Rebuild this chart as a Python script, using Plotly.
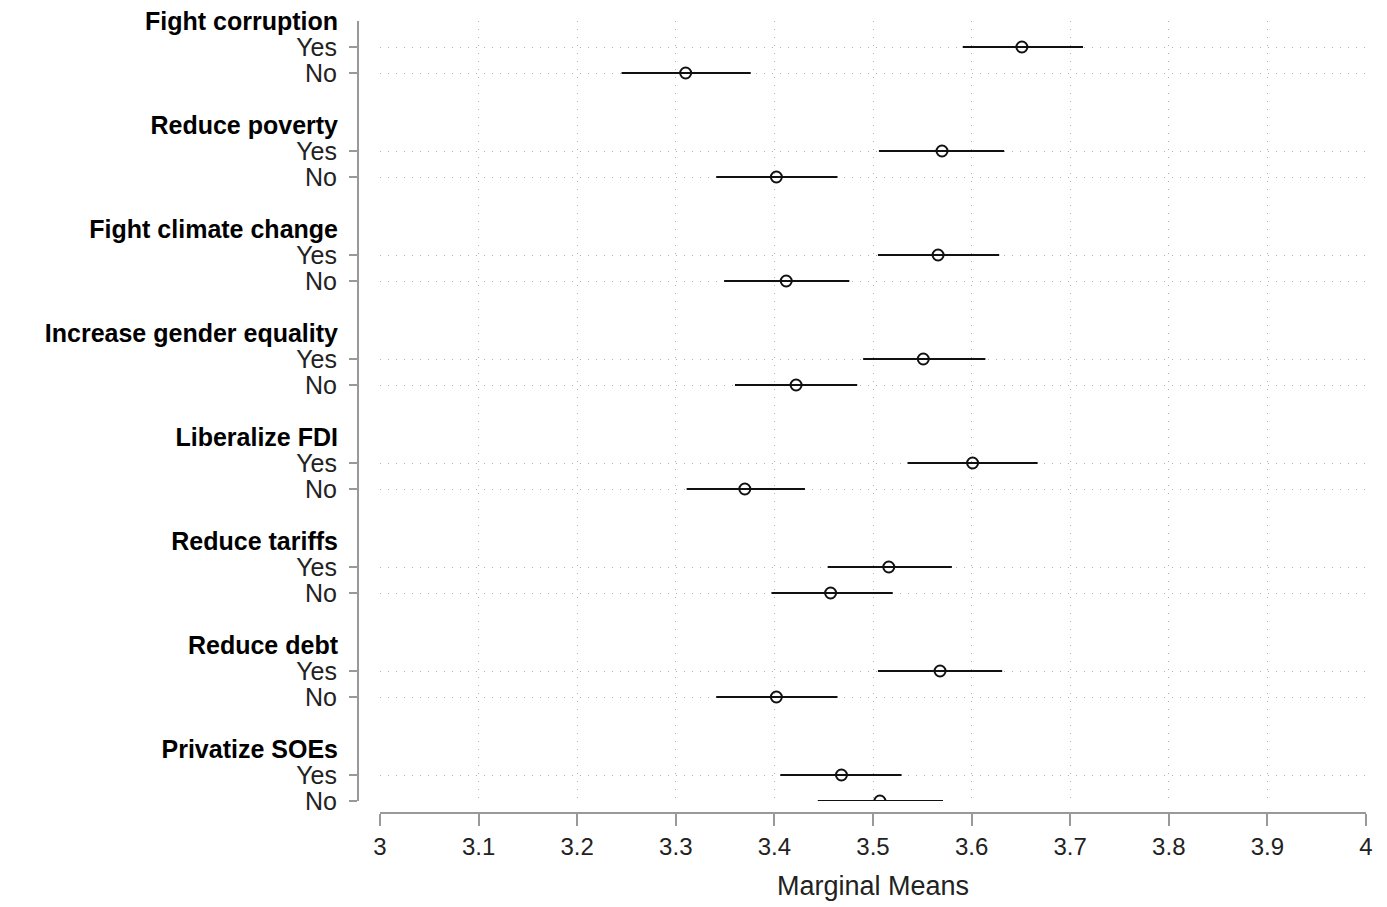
import plotly.graph_objects as go

groups = ["Fight corruption", "Reduce poverty", "Fight climate change",
          "Increase gender equality", "Liberalize FDI", "Reduce tariffs",
          "Reduce debt", "Privatize SOEs"]
levels = ["Yes", "No"]

yes_mean = [3.651, 3.570, 3.566, 3.551, 3.601, 3.516, 3.568, 3.468]
yes_lo   = [3.591, 3.506, 3.505, 3.490, 3.535, 3.454, 3.505, 3.406]
yes_hi   = [3.713, 3.633, 3.628, 3.614, 3.667, 3.580, 3.631, 3.529]
no_mean  = [3.310, 3.402, 3.412, 3.422, 3.370, 3.457, 3.402, 3.507]
no_lo    = [3.245, 3.341, 3.349, 3.360, 3.311, 3.397, 3.341, 3.444]
no_hi    = [3.376, 3.464, 3.476, 3.484, 3.431, 3.520, 3.464, 3.571]

x_ticks = [3, 3.1, 3.2, 3.3, 3.4, 3.5, 3.6, 3.7, 3.8, 3.9, 4]
x_tick_text = ["3", "3.1", "3.2", "3.3", "3.4", "3.5", "3.6", "3.7", "3.8", "3.9", "4"]

# row positions: header, Yes, No, blank per group
header_pos = [4 * i for i in range(len(groups))]
yes_pos = [4 * i + 1 for i in range(len(groups))]
no_pos = [4 * i + 2 for i in range(len(groups))]

means = yes_mean + no_mean
los = yes_lo + no_lo
his = yes_hi + no_hi
ys = yes_pos + no_pos

W, H = 1387, 907
FONT = "Liberation Sans, Arial, Helvetica, sans-serif"
FS_Y = 25
FS_T = 27
FS_X = 24
AX = "#999999"
GRID = "#b0b0b0"

fig = go.Figure()
fig.add_trace(go.Scatter(
    x=means, y=ys, mode="markers",
    marker=dict(symbol="circle-open", size=11, color="#111111", line=dict(width=2, color="#111111")),
    error_x=dict(type="data", symmetric=False,
                 array=[h - m for h, m in zip(his, means)],
                 arrayminus=[m - l for m, l in zip(means, los)],
                 color="#111111", thickness=2.2, width=0),
    showlegend=False, hoverinfo="x+y",
))
# invisible trace to carry secondary axes (header labels + vertical grid)
fig.add_trace(go.Scatter(x=[None] * len(header_pos), y=header_pos, xaxis="x2", yaxis="y2",
                         mode="markers", showlegend=False, hoverinfo="skip"))

y_pos_rows = sorted(yes_pos + no_pos)
y_text_rows = [levels[(p % 4) - 1] for p in y_pos_rows]

xdom = [380 / W, 1366 / W]
ydom = [1 - 801 / H, 1 - 21 / H]
yrange = [max(no_pos), 0]

fig.update_layout(
    width=W, height=H,
    margin=dict(l=0, r=0, t=0, b=0),
    paper_bgcolor="white", plot_bgcolor="white",
    font=dict(family=FONT, size=FS_Y, color="#222222"),
    xaxis=dict(domain=xdom, range=[3, 4], anchor="free", position=1 - 813 / H,
               tickvals=x_ticks, ticktext=x_tick_text, ticks="outside", ticklen=12,
               tickwidth=2, tickcolor=AX, showline=True, linecolor=AX, linewidth=2,
               showgrid=False, zeroline=False, automargin=False,
               title=dict(text="Marginal Means", standoff=16, font=dict(size=FS_T)),
               tickfont=dict(size=FS_X, color="#222222")),
    xaxis2=dict(domain=xdom, range=[3, 4], overlaying="x", anchor="y",
                tickvals=x_ticks[1:-1], showticklabels=False, ticks="",
                showline=False, showgrid=True, gridcolor=GRID, gridwidth=1.2,
                griddash="1px,7px", zeroline=False),
    yaxis=dict(domain=ydom, range=yrange, anchor="free", position=358 / W,
               tickvals=y_pos_rows, ticktext=y_text_rows, ticks="outside", ticklen=8,
               tickwidth=2, tickcolor=AX, showline=True, linecolor=AX, linewidth=2,
               showgrid=True, gridcolor=GRID, gridwidth=1.2, griddash="1px,7px",
               ticklabelstandoff=7,
               zeroline=False, automargin=False, tickfont=dict(size=FS_Y, color="#222222")),
    yaxis2=dict(domain=ydom, range=yrange, overlaying="y", anchor="free", position=358 / W,
                tickvals=header_pos, ticktext=["<b>" + g + "</b>" for g in groups],
                ticks="outside", ticklen=8, tickcolor="rgba(0,0,0,0)",
                ticklabelstandoff=7,
                showline=False, showgrid=False, zeroline=False, automargin=False,
                tickfont=dict(size=FS_Y, color="#000000")),
)

fig.write_html("out.html")
